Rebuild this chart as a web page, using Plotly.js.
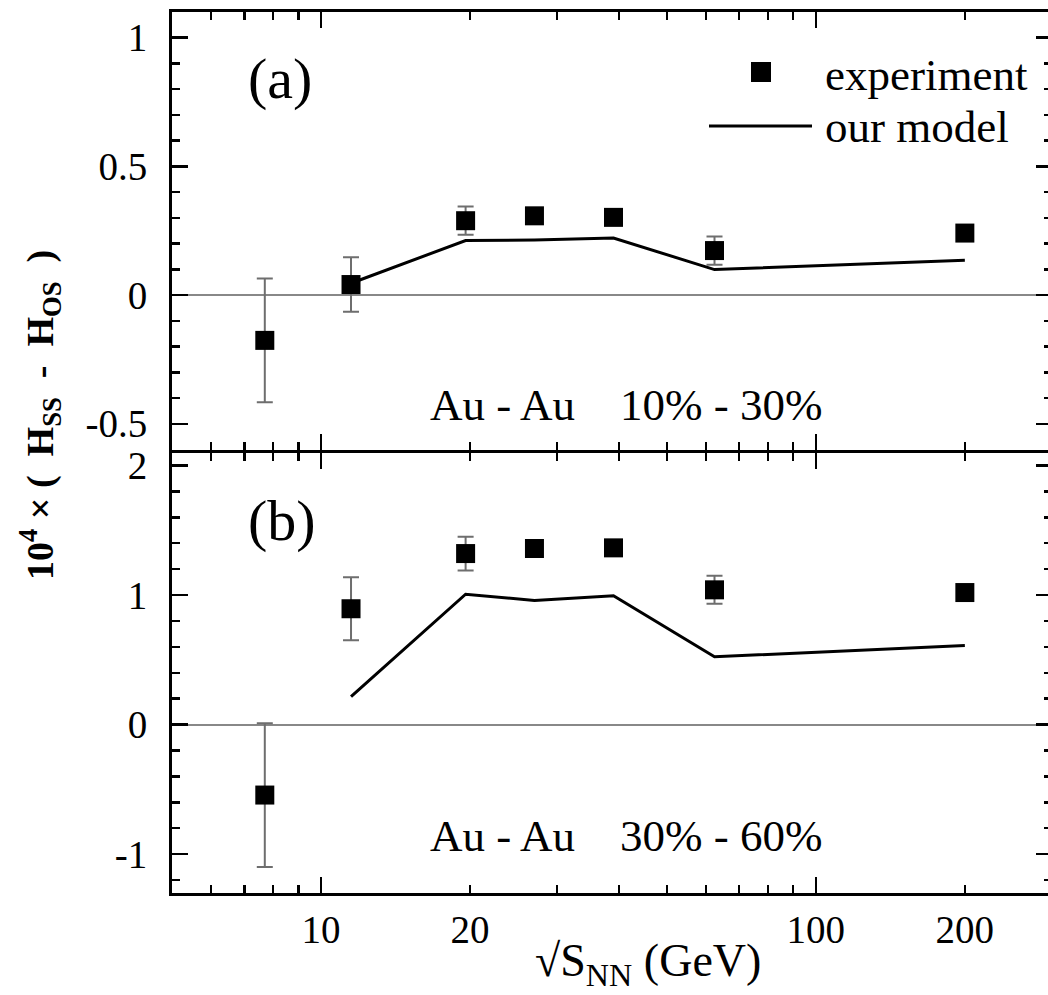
<!DOCTYPE html>
<html><head><meta charset="utf-8">
<script src="https://cdn.plot.ly/plotly-3.0.1.min.js"></script>
<style>html,body{margin:0;padding:0;overflow:hidden;background:#fff}</style>
</head><body><div id="chart" style="width:1060px;height:995px"></div>
<script>
// ---- data ----
const energies = [7.7, 11.5, 19.6, 27, 39, 62.4, 200];
const expA = [-0.176, 0.041, 0.289, 0.308, 0.302, 0.173, 0.241];
const errA = [0.24, 0.106, 0.055, 0.02, 0.02, 0.055, 0.02];
const expB = [-0.544, 0.894, 1.320, 1.359, 1.364, 1.040, 1.019];
const errB = [0.555, 0.243, 0.13, 0.04, 0.05, 0.108, 0.04];
const modelEnergies = [11.5, 19.6, 27, 39, 62.4, 200];
const modelA = [0.046, 0.212, 0.214, 0.222, 0.099, 0.135];
const modelB = [0.215, 1.006, 0.958, 0.994, 0.523, 0.611];

const xTickVals = [10, 20, 100, 200];
const xTickText = ['10', '20', '100', '200'];
const xLongTickVals = [10, 100];
const xMinorTickVals = [6, 7, 8, 9, 30, 40, 50, 60, 70, 80, 90];
const yTickValsA = [-0.5, 0, 0.5, 1];
const yTickTextA = ['-0.5', '0', '0.5', '1'];
const yTickValsB = [-1, 0, 1, 2];
const yTickTextB = ['-1', '0', '1', '2'];
const seriesNames = ['experiment', 'our model'];
const panelLabels = ['(a)', '(b)'];
const systemLabels = ['Au - Au\u00a0\u00a0\u00a0 10% - 30%', 'Au - Au\u00a0\u00a0\u00a0 30% - 60%'];

// ---- layout helpers ----
const L = 172, R = 1052, T = 12, B = 893;
const px = v => (v - L) / (R - L);
const py = v => (B - v) / (B - T);
const FONT = 'Liberation Serif, Times New Roman, serif';
const xRange = [Math.log10(5), Math.log10(300)];
const LW = 3;
const gap = LW / (B - T);

function expTrace(y, err, xa, ya) {
  return {x: energies, y: y, xaxis: xa, yaxis: ya, type: 'scatter', mode: 'markers', name: seriesNames[0],
    showlegend: false, cliponaxis: false,
    marker: {symbol: 'square', size: 19, color: '#000', line: {width: 0}},
    error_y: {type: 'data', array: err, visible: true, color: '#6e6e6e', thickness: 2, width: 8}};
}
function modelTrace(y, xa, ya) {
  return {x: modelEnergies, y: y, xaxis: xa, yaxis: ya, type: 'scatter', mode: 'lines', name: seriesNames[1],
    showlegend: false, line: {color: '#000', width: 3}};
}
const data = [
  expTrace(expA, errA, 'x', 'y'), modelTrace(modelA, 'x3', 'y'),
  expTrace(expB, errB, 'x2', 'y2'), modelTrace(modelB, 'x4', 'y2')
];

function xAxis(anchor, labels) {
  return {type: 'log', range: xRange, anchor: anchor, showgrid: false, zeroline: false,
    showline: true, linecolor: '#000', linewidth: LW, mirror: 'ticks',
    tickmode: 'array', tickvals: xTickVals, ticktext: xTickText, showticklabels: labels,
    ticks: 'inside', ticklen: 8, tickwidth: 2.5, tickcolor: '#000', ticklabelstandoff: 0,
    tickfont: {family: FONT, size: 39, color: '#000'},
    minor: {tickmode: 'array', tickvals: xMinorTickVals, ticks: 'inside', ticklen: 8, tickwidth: 2.5, tickcolor: '#000', showgrid: false}};
}
function xLongAxis(over, anchor) {
  return {type: 'log', range: xRange, overlaying: over, anchor: anchor, showgrid: false, zeroline: false,
    showline: true, linecolor: '#000', linewidth: LW, mirror: 'ticks',
    tickmode: 'array', tickvals: xLongTickVals, showticklabels: false,
    ticks: 'inside', ticklen: 16, tickwidth: 2.5, tickcolor: '#000'};
}
function yAxis(domain, range, vals, text, minorStep, anchor) {
  return {domain: domain, range: range, anchor: anchor, showgrid: false,
    zeroline: true, zerolinecolor: '#888', zerolinewidth: 2,
    showline: true, linecolor: '#000', linewidth: LW, mirror: 'ticks',
    tickmode: 'array', tickvals: vals, ticktext: text,
    ticks: 'inside', ticklen: 16, tickwidth: 2.5, tickcolor: '#000', ticklabelstandoff: 14,
    tickfont: {family: FONT, size: 39, color: '#000'},
    minor: {tickmode: 'linear', tick0: 0, dtick: minorStep, ticks: 'inside', ticklen: 8, tickwidth: 2.5, tickcolor: '#000', showgrid: false}};
}

const ann = (text, x, y, size, extra) => Object.assign({text: text, xref: 'paper', yref: 'paper',
  x: px(x), y: py(y), xanchor: 'center', yanchor: 'middle', showarrow: false,
  font: {family: FONT, size: size, color: '#000'}}, extra || {});

const layout = {
  width: 1060, height: 995,
  margin: {l: L, r: 1060 - R, t: T, b: 995 - B, pad: 0},
  paper_bgcolor: '#fff', plot_bgcolor: 'rgba(0,0,0,0)',
  showlegend: false,
  xaxis: xAxis('y', false),
  xaxis2: xAxis('y2', true),
  xaxis3: xLongAxis('x', 'y'),
  xaxis4: xLongAxis('x2', 'y2'),
  yaxis: yAxis([0.5 + gap, 1], [-0.6, 1.1], yTickValsA, yTickTextA, 0.1, 'x'),
  yaxis2: yAxis([0, 0.5], [-1.3, 2.1], yTickValsB, yTickTextB, 0.2, 'x2'),
  shapes: [
    {type: 'rect', xref: 'paper', yref: 'paper', x0: px(751), x1: px(771), y0: py(62), y1: py(82),
     fillcolor: '#000', line: {width: 0}},
    {type: 'line', xref: 'paper', yref: 'paper', x0: px(709), x1: px(812), y0: py(126), y1: py(126),
     line: {color: '#000', width: 3}}
  ],
  annotations: [
    ann(panelLabels[0], 280, 78, 58),
    ann(panelLabels[1], 282, 520, 58),
    ann(systemLabels[0], 626, 405, 45),
    ann(systemLabels[1], 626, 836, 45),
    ann(seriesNames[0], 823, 75, 45, {xanchor: 'left'}),
    ann(seriesNames[1], 823, 127, 45, {xanchor: 'left'}),
    ann('√S<sub>NN</sub> (GeV)', 648, 964, 46),
    ann('<b>10<sup>4</sup> ×\u00a0(\u00a0\u00a0H<sub>SS</sub>\u00a0\u00a0-\u00a0\u00a0H<sub>OS</sub>\u00a0\u00a0)</b>', 40, 415, 38, {textangle: -90})
  ]
};

Plotly.newPlot('chart', data, layout, {staticPlot: true, displayModeBar: false});
</script>
</body></html>
